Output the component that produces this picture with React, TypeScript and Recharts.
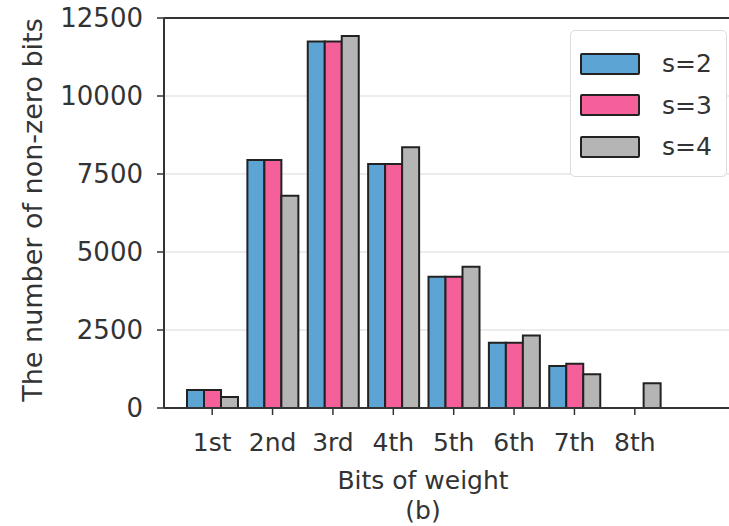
import React from "react";
import {
  BarChart,
  Bar,
  XAxis,
  YAxis,
  CartesianGrid,
  Legend,
  ReferenceLine,
} from "recharts";

const categories = ["1st", "2nd", "3rd", "4th", "5th", "6th", "7th", "8th"];
const s2 = [580, 7950, 11750, 7820, 4210, 2090, 1350, 0];
const s3 = [580, 7950, 11750, 7820, 4210, 2090, 1420, 0];
const s4 = [350, 6800, 11920, 8360, 4530, 2320, 1080, 790];
const yTicks = [0, 2500, 5000, 7500, 10000, 12500];

const seriesNames = ["s=2", "s=3", "s=4"];
const colors = ["#5ba4d4", "#f5609a", "#b5b5b5"];

const data = categories.map((bit, i) => ({
  bit,
  s2: s2[i],
  s3: s3[i],
  s4: s4[i],
}));

const font = "'DejaVu Sans', sans-serif";
const ink = "#333";

function LegendBox() {
  return (
    <div
      style={{
        border: "1.5px solid #dcdcdc",
        borderRadius: 5,
        background: "#fff",
        padding: "12px 0 8px 9px",
        fontFamily: font,
        fontSize: 25,
        color: ink,
      }}
    >
      {seriesNames.map((name, i) => (
        <div
          key={name}
          style={{ display: "flex", alignItems: "center", height: 41.5 }}
        >
          <span
            style={{
              display: "inline-block",
              width: 56,
              height: 18,
              background: colors[i],
              border: "2px solid #222",
              borderRadius: 2,
              marginRight: 22,
            }}
          />
          <span>{name}</span>
        </div>
      ))}
    </div>
  );
}

export default function App() {
  return (
    <div
      style={{
        position: "absolute",
        left: 0,
        top: 0,
        width: 729,
        height: 526,
        overflow: "hidden",
        background: "#fff",
      }}
    >
      <BarChart
        width={745}
        height={526}
        data={data}
        margin={{ top: 18, right: 0, bottom: 0, left: 0 }}
        barCategoryGap={5}
        barGap={0}
      >
        <CartesianGrid
          vertical={false}
          stroke="#e6e6e6"
          strokeWidth={1.5}
        />
        <ReferenceLine y={12500} stroke={ink} strokeWidth={2} />
        <XAxis
          dataKey="bit"
          height={118}
          interval={0}
          padding={{ left: 18, right: 80 }}
          axisLine={{ stroke: ink, strokeWidth: 2 }}
          tickLine={{ stroke: ink, strokeWidth: 1.5 }}
          tickSize={7}
          tickMargin={18}
          tick={{ fontFamily: font, fontSize: 25, fill: ink }}
          label={() => (
            <g fontFamily={font} fontSize={25} fill={ink} textAnchor="middle">
              <text x={423} y={489}>Bits of weight</text>
              <text x={423} y={519}>(b)</text>
            </g>
          )}
        />
        <YAxis
          width={164}
          domain={[0, 12500]}
          ticks={yTicks}
          interval={0}
          axisLine={{ stroke: ink, strokeWidth: 2 }}
          tickLine={{ stroke: ink, strokeWidth: 1.5 }}
          tickSize={7}
          tickMargin={14}
          tick={{ fontFamily: font, fontSize: 26, fill: ink }}
          label={() => (
            <text
              x={32}
              y={210}
              transform="rotate(-90 32 210)"
              textAnchor="middle"
              dominantBaseline="central"
              fontFamily={font}
              fontSize={27}
              fill={ink}
            >
              The number of non-zero bits
            </text>
          )}
        />
        <Legend
          layout="vertical"
          align="center"
          verticalAlign="middle"
          wrapperStyle={{ left: 570, top: 30, width: 157 }}
          content={() => <LegendBox />}
        />
        {["s2", "s3", "s4"].map((key, i) => (
          <Bar
            key={key}
            dataKey={key}
            name={seriesNames[i]}
            fill={colors[i]}
            stroke="#222"
            strokeWidth={2}
            isAnimationActive={false}
          />
        ))}
      </BarChart>
    </div>
  );
}
